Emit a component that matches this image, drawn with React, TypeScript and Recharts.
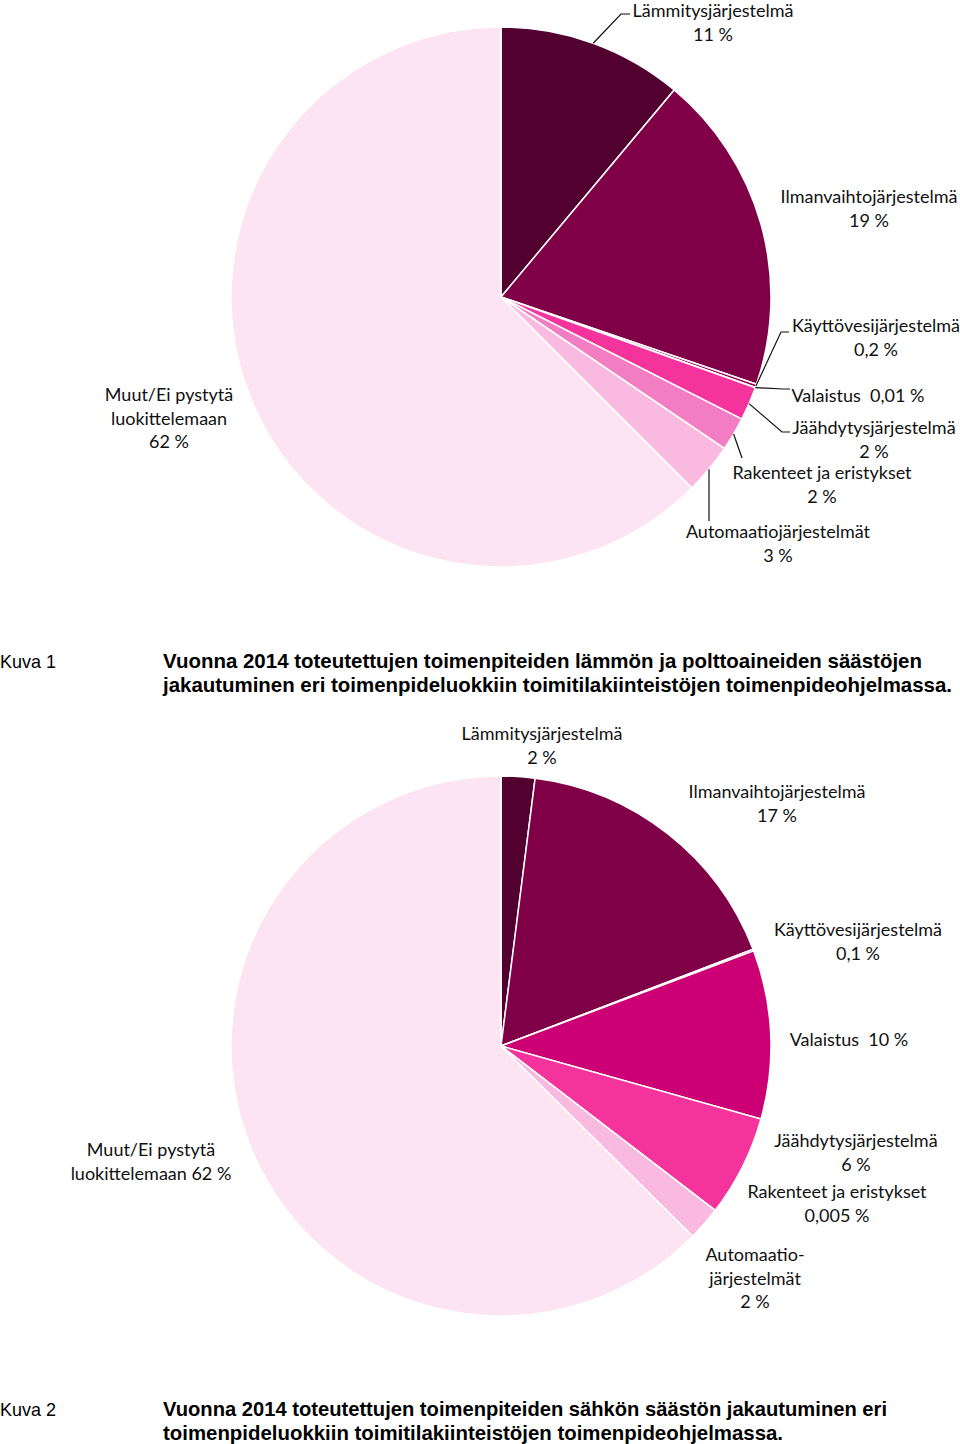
import { PieChart, Pie, Cell } from "recharts";

const CATEGORIES = [
  "Lämmitysjärjestelmä",
  "Ilmanvaihtojärjestelmä",
  "Käyttövesijärjestelmä",
  "Valaistus",
  "Jäähdytysjärjestelmä",
  "Rakenteet ja eristykset",
  "Automaatiojärjestelmät",
  "Muut/Ei pystytä luokittelemaan",
];

// Kuva 1: lämpö ja polttoaineet, %
const HEAT_VALUES = [11, 19, 0.2, 0.01, 2, 2, 3, 62];
// Kuva 2: sähkö, %
const ELEC_VALUES = [2, 17, 0.1, 10, 6, 0.005, 2, 62];

const HEAT_LABELS = [
  ["Lämmitysjärjestelmä", "11 %"],
  ["Ilmanvaihtojärjestelmä", "19 %"],
  ["Käyttövesijärjestelmä", "0,2 %"],
  ["Valaistus  0,01 %"],
  ["Jäähdytysjärjestelmä", "2 %"],
  ["Rakenteet ja eristykset", "2 %"],
  ["Automaatiojärjestelmät", "3 %"],
  ["Muut/Ei pystytä", "luokittelemaan", "62 %"],
];

const ELEC_LABELS = [
  ["Lämmitysjärjestelmä", "2 %"],
  ["Ilmanvaihtojärjestelmä", "17 %"],
  ["Käyttövesijärjestelmä", "0,1 %"],
  ["Valaistus  10 %"],
  ["Jäähdytysjärjestelmä", "6 %"],
  ["Rakenteet ja eristykset", "0,005 %"],
  ["Automaatio-", "järjestelmät", "2 %"],
  ["Muut/Ei pystytä", "luokittelemaan 62 %"],
];

const CAPTION_1 = [
  "Vuonna 2014 toteutettujen toimenpiteiden lämmön ja polttoaineiden säästöjen",
  "jakautuminen eri toimenpideluokkiin toimitilakiinteistöjen toimenpideohjelmassa.",
];
const CAPTION_2 = [
  "Vuonna 2014 toteutettujen toimenpiteiden sähkön säästön jakautuminen eri",
  "toimenpideluokkiin toimitilakiinteistöjen toimenpideohjelmassa.",
];

const COLORS = [
  "#52002f",
  "#7f0047",
  "#a3005d",
  "#cc0074",
  "#f5339d",
  "#f27dc3",
  "#fab9de",
  "#fce4f2",
];

// label anchor: centre x, centre y of first line
const HEAT_LABEL_POS = [
  [713, 11], [869, 197], [876, 326], [858, 396],
  [874, 428], [822, 473], [778, 532], [169, 395],
];
const ELEC_LABEL_POS = [
  [542, 734], [777, 792], [858, 930], [849, 1040],
  [856, 1141], [837, 1192], [755, 1255], [151, 1150],
];

// leader lines: points after the start on the slice edge
const HEAT_LEADERS: (number[][] | null)[] = [
  [[621, 14], [630, 14]],
  null,
  [[781, 332], [789, 332]],
  [[783, 389], [790, 389]],
  [[782, 432], [790, 432]],
  [[742, 458]],
  [[709, 521]],
  null,
];
const ELEC_LEADERS: (number[][] | null)[] = [null, null, null, null, null, null, null, null];

const LABEL_FONT = "Lato, 'Open Sans', sans-serif";
const LINE_H = 23.5;

function makeLabel(lines: string[][], pos: number[][], leaders: (number[][] | null)[], verticalIdx = -1) {
  return (props: any) => {
    const { index, cx, cy, midAngle, outerRadius } = props;
    const [x, y] = pos[index];
    const leader = leaders[index];
    let line = null;
    if (leader) {
      const rad = (-midAngle * Math.PI) / 180;
      let sx = cx + outerRadius * Math.cos(rad);
      let sy = cy + outerRadius * Math.sin(rad);
      if (index === verticalIdx) {
        // vertical leader: start where its x meets the circle
        sx = leader[0][0];
        sy = cy + Math.sqrt(outerRadius * outerRadius - (sx - cx) * (sx - cx));
      }
      const pts = [[sx, sy], ...leader].map((p) => p.join(",")).join(" ");
      line = <polyline points={pts} fill="none" stroke="#111" strokeWidth={1.2} />;
    }
    return (
      <g key={`lbl-${index}`}>
        {line}
        <text
          textAnchor="middle"
          fill="#111"
          fontFamily={LABEL_FONT}
          fontSize={18}
          style={{ whiteSpace: "pre" }}
        >
          {lines[index].map((t, i) => (
            <tspan key={i} x={x} y={y + 6 + i * LINE_H}>
              {t}
            </tspan>
          ))}
        </text>
      </g>
    );
  };
}

const heatData = CATEGORIES.map((name, i) => ({ name, value: HEAT_VALUES[i] }));
const elecData = CATEGORIES.map((name, i) => ({ name, value: ELEC_VALUES[i] }));

const CAP_FONT = "'Liberation Sans', Arial, sans-serif";

function Caption({ y, num, lines, widths }: { y: number; num: string; lines: string[]; widths: number[] }) {
  return (
    <g>
      <text x={0} y={y} fontFamily={CAP_FONT} fontSize={19} textLength={56} lengthAdjust="spacingAndGlyphs">
        {num}
      </text>
      {lines.map((l, i) => (
        <text
          key={i}
          x={163}
          y={y + i * 23.5}
          fontFamily={CAP_FONT}
          fontSize={20.5}
          fontWeight="bold"
          textLength={widths[i]}
          lengthAdjust="spacingAndGlyphs"
        >
          {l}
        </text>
      ))}
    </g>
  );
}

export default function App() {
  return (
    <div
      style={{
        position: "absolute",
        left: 0,
        top: 0,
        width: 960,
        height: 1444,
        background: "#fff",
        overflow: "hidden",
      }}
    >
      <PieChart
        width={960}
        height={1444}
        margin={{ top: 0, right: 0, bottom: 0, left: 0 }}
        style={{ position: "absolute", left: 0, top: 0 }}
      >
        <Pie
          data={heatData}
          dataKey="value"
          nameKey="name"
          cx={501}
          cy={297}
          outerRadius={270}
          startAngle={90}
          endAngle={-270}
          stroke="#fff"
          strokeWidth={1.5}
          isAnimationActive={false}
          labelLine={false}
          label={makeLabel(HEAT_LABELS, HEAT_LABEL_POS, HEAT_LEADERS, 6)}
        >
          {heatData.map((_, i) => (
            <Cell key={i} fill={COLORS[i]} />
          ))}
        </Pie>
        <Pie
          data={elecData}
          dataKey="value"
          nameKey="name"
          cx={501}
          cy={1046}
          outerRadius={270}
          startAngle={90}
          endAngle={-270}
          stroke="#fff"
          strokeWidth={1.5}
          isAnimationActive={false}
          labelLine={false}
          label={makeLabel(ELEC_LABELS, ELEC_LABEL_POS, ELEC_LEADERS)}
        >
          {elecData.map((_, i) => (
            <Cell key={i} fill={COLORS[i]} />
          ))}
        </Pie>
      </PieChart>
      <svg width={960} height={1444} style={{ position: "absolute", left: 0, top: 0, pointerEvents: "none" }}>
        <Caption y={668} num="Kuva 1" lines={CAPTION_1} widths={[759, 789]} />
        <Caption y={1416} num="Kuva 2" lines={CAPTION_2} widths={[724, 620]} />
      </svg>
    </div>
  );
}
